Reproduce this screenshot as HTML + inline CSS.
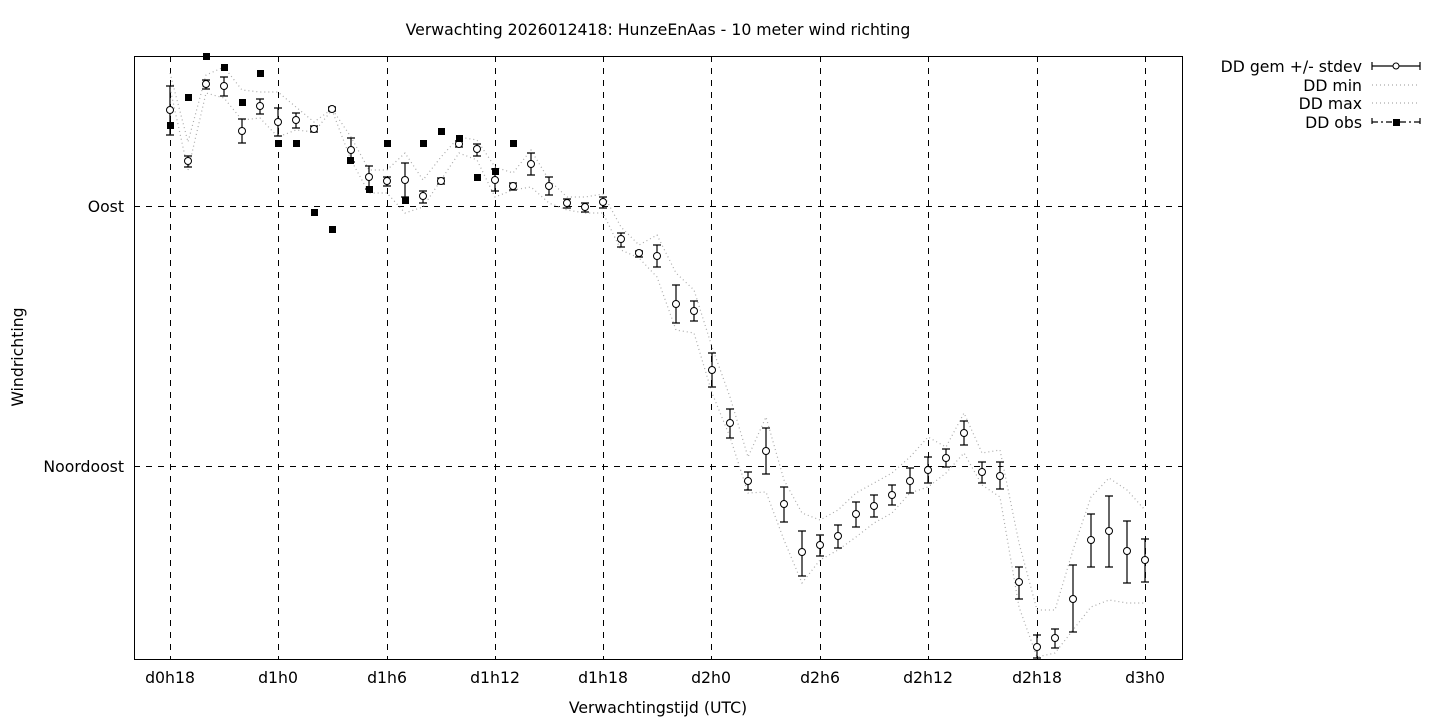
<!DOCTYPE html>
<html><head><meta charset="utf-8"><style>
html,body{margin:0;padding:0;background:#fff}
svg{display:block}
text{font-family:"DejaVu Sans",sans-serif;font-size:15.7px;fill:#000}
</style></head><body>
<svg width="1440" height="720" viewBox="0 0 1440 720" xmlns="http://www.w3.org/2000/svg">
<rect width="1440" height="720" fill="#fff"/>
<text x="658" y="35" text-anchor="middle">Verwachting 2026012418: HunzeEnAas - 10 meter wind richting</text>
<g stroke="#000" stroke-width="1" stroke-dasharray="6,6" fill="none">
<path d="M134 206.5H1182M134 466.5H1182"/>
<path d="M170.5 56V659M278.5 56V659M387.5 56V659M495.5 56V659M603.5 56V659M711.5 56V659M820.5 56V659M928.5 56V659M1037.5 56V659M1145.5 56V659"/>
</g>
<rect x="134.5" y="56.5" width="1048" height="603" fill="none" stroke="#000"/>
<g text-anchor="end"><text x="124" y="212">Oost</text><text x="124" y="472">Noordoost</text></g>
<g text-anchor="middle">
<text x="170" y="683">d0h18</text><text x="278" y="683">d1h0</text><text x="387" y="683">d1h6</text><text x="495" y="683">d1h12</text><text x="603" y="683">d1h18</text><text x="711" y="683">d2h0</text><text x="820" y="683">d2h6</text><text x="928" y="683">d2h12</text><text x="1037" y="683">d2h18</text><text x="1145" y="683">d3h0</text>
<text x="658" y="713">Verwachtingstijd (UTC)</text>
</g>
<text transform="translate(23,357) rotate(-90)" text-anchor="middle">Windrichting</text>
<g fill="none" stroke="#aaa" stroke-width="1.2" stroke-dasharray="1,3">
<polyline points="170,73 188,142 206,75 224,67 242,90 260,92 278,92 296,107 314,122 332,109 351,137 369,170 387,170 405,153 423,180 441,157 459,137 477,140 495,167 513,173 531,150 549,180 567,197 585,197 603,194 621,227 639,245 657,235 676,273 694,290 712,347 730,397 748,457 766,417 784,480 802,513 820,520 838,510 856,493 874,483 892,473 910,457 928,437 946,447 964,413 982,453 1000,450 1019,543 1037,610 1055,610 1073,550 1091,497 1109,478 1127,490 1145,510"/>
<polyline points="170,88 188,170 206,93 224,98 242,120 260,118 278,137 296,130 314,132 332,110 351,160 369,193 387,193 405,213 423,207 441,180 459,153 477,160 495,197 513,190 531,187 549,203 567,210 585,213 603,213 621,250 639,258 657,277 676,330 694,333 712,393 730,437 748,493 766,492 784,540 802,583 820,560 838,550 856,537 874,523 892,513 910,493 928,487 946,473 964,453 982,485 1000,497 1019,607 1037,657 1055,653 1073,630 1091,607 1109,600 1127,603 1145,603"/>
</g>
<g stroke="#000" stroke-width="1.2" fill="none">
<path d="M170 86V135M166 86H174M166 135H174M188 156V167M184 156H192M184 167H192M206 80V89M202 80H210M202 89H210M224 77V96M220 77H228M220 96H228M242 119V143M238 119H246M238 143H246M260 99V114M256 99H264M256 114H264M278 108V136M274 108H282M274 136H282M296 113V128M292 113H300M292 128H300M314 126V132M310 126H318M310 132H318M332 107V111M328 107H336M328 111H336M351 138V162M347 138H355M347 162H355M369 166V189M365 166H373M365 189H373M387 177V186M383 177H391M383 186H391M405 163V197M401 163H409M401 197H409M423 191V203M419 191H427M419 203H427M441 178V184M437 178H445M437 184H445M459 141V147M455 141H463M455 147H463M477 144V156M473 144H481M473 156H481M495 169V191M491 169H499M491 191H499M513 183V190M509 183H517M509 190H517M531 153V175M527 153H535M527 175H535M549 177V195M545 177H553M545 195H553M567 199V208M563 199H571M563 208H571M585 203V212M581 203H589M581 212H589M603 197V208M599 197H607M599 208H607"/>
<path d="M621 233V247M617 233H625M617 247H625M639 251V257M635 251H643M635 257H643M657 245V267M653 245H661M653 267H661M676 285V323M672 285H680M672 323H680M694 301V321M690 301H698M690 321H698M712 353V387M708 353H716M708 387H716M730 409V438M726 409H734M726 438H734M748 472V490M744 472H752M744 490H752M766 428V474M762 428H770M762 474H770M784 487V522M780 487H788M780 522H788M802 531V576M798 531H806M798 576H806M820 535V556M816 535H824M816 556H824M838 525V548M834 525H842M834 548H842M856 502V527M852 502H860M852 527H860M874 495V517M870 495H878M870 517H878M892 485V505M888 485H896M888 505H896M910 468V493M906 468H914M906 493H914M928 457V483M924 457H932M924 483H932M946 449V467M942 449H950M942 467H950M964 421V445M960 421H968M960 445H968M982 462V483M978 462H986M978 483H986M1000 462V489M996 462H1004M996 489H1004M1019 567V599M1015 567H1023M1015 599H1023M1037 635V658M1033 635H1041M1033 658H1041M1055 629V648M1051 629H1059M1051 648H1059M1073 565V632M1069 565H1077M1069 632H1077M1091 514V567M1087 514H1095M1087 567H1095M1109 496V567M1105 496H1113M1105 567H1113M1127 521V583M1123 521H1131M1123 583H1131M1145 539V582M1141 539H1149M1141 582H1149"/>
</g>
<g fill="#fff" stroke="#000" stroke-width="1">
<circle cx="170" cy="110" r="3.5"/><circle cx="188" cy="161" r="3.5"/><circle cx="206" cy="84" r="3.5"/><circle cx="224" cy="86" r="3.5"/><circle cx="242" cy="131" r="3.5"/><circle cx="260" cy="106" r="3.5"/><circle cx="278" cy="122" r="3.5"/><circle cx="296" cy="120" r="3.5"/><circle cx="314" cy="129" r="3.5"/><circle cx="332" cy="109" r="3.5"/><circle cx="351" cy="150" r="3.5"/><circle cx="369" cy="177" r="3.5"/><circle cx="387" cy="181" r="3.5"/><circle cx="405" cy="180" r="3.5"/><circle cx="423" cy="196" r="3.5"/><circle cx="441" cy="181" r="3.5"/><circle cx="459" cy="144" r="3.5"/><circle cx="477" cy="149" r="3.5"/><circle cx="495" cy="180" r="3.5"/><circle cx="513" cy="186" r="3.5"/><circle cx="531" cy="164" r="3.5"/><circle cx="549" cy="186" r="3.5"/><circle cx="567" cy="203" r="3.5"/><circle cx="585" cy="207" r="3.5"/><circle cx="603" cy="202" r="3.5"/><circle cx="621" cy="239" r="3.5"/><circle cx="639" cy="253" r="3.5"/><circle cx="657" cy="256" r="3.5"/><circle cx="676" cy="304" r="3.5"/><circle cx="694" cy="311" r="3.5"/><circle cx="712" cy="370" r="3.5"/><circle cx="730" cy="423" r="3.5"/><circle cx="748" cy="481" r="3.5"/><circle cx="766" cy="451" r="3.5"/><circle cx="784" cy="504" r="3.5"/><circle cx="802" cy="552" r="3.5"/><circle cx="820" cy="545" r="3.5"/><circle cx="838" cy="536" r="3.5"/><circle cx="856" cy="514" r="3.5"/><circle cx="874" cy="506" r="3.5"/><circle cx="892" cy="495" r="3.5"/><circle cx="910" cy="481" r="3.5"/><circle cx="928" cy="470" r="3.5"/><circle cx="946" cy="458" r="3.5"/><circle cx="964" cy="433" r="3.5"/><circle cx="982" cy="472" r="3.5"/><circle cx="1000" cy="476" r="3.5"/><circle cx="1019" cy="582" r="3.5"/><circle cx="1037" cy="647" r="3.5"/><circle cx="1055" cy="638" r="3.5"/><circle cx="1073" cy="599" r="3.5"/><circle cx="1091" cy="540" r="3.5"/><circle cx="1109" cy="531" r="3.5"/><circle cx="1127" cy="551" r="3.5"/><circle cx="1145" cy="560" r="3.5"/>
</g>
<g fill="#000">
<rect x="167" y="122" width="7" height="7"/><rect x="185" y="94" width="7" height="7"/><rect x="203" y="53" width="7" height="7"/><rect x="221" y="64" width="7" height="7"/><rect x="239" y="99" width="7" height="7"/><rect x="257" y="70" width="7" height="7"/><rect x="275" y="140" width="7" height="7"/><rect x="293" y="140" width="7" height="7"/><rect x="311" y="209" width="7" height="7"/><rect x="329" y="226" width="7" height="7"/><rect x="347" y="157" width="7" height="7"/><rect x="366" y="186" width="7" height="7"/><rect x="384" y="140" width="7" height="7"/><rect x="402" y="197" width="7" height="7"/><rect x="420" y="140" width="7" height="7"/><rect x="438" y="128" width="7" height="7"/><rect x="456" y="135" width="7" height="7"/><rect x="474" y="174" width="7" height="7"/><rect x="492" y="168" width="7" height="7"/><rect x="510" y="140" width="7" height="7"/>
</g>
<g text-anchor="end">
<text x="1362" y="72">DD gem +/- stdev</text><text x="1362" y="91">DD min</text><text x="1362" y="109">DD max</text><text x="1362" y="128">DD obs</text>
</g>
<g stroke="#000" stroke-width="1.2" fill="none">
<path d="M1372 66H1420M1372 62V70M1420 62V70"/>
<path d="M1372 122H1420M1372 118V126M1420 118V126" stroke-dasharray="6,3,2,3"/>
</g>
<circle cx="1396" cy="66" r="3" fill="#fff" stroke="#000"/>
<rect x="1393" y="119" width="7" height="7" fill="#000"/>
<g stroke="#aaa" stroke-width="1.2" stroke-dasharray="1,3"><path d="M1372 85H1420M1372 103H1420"/></g>
</svg>
</body></html>
